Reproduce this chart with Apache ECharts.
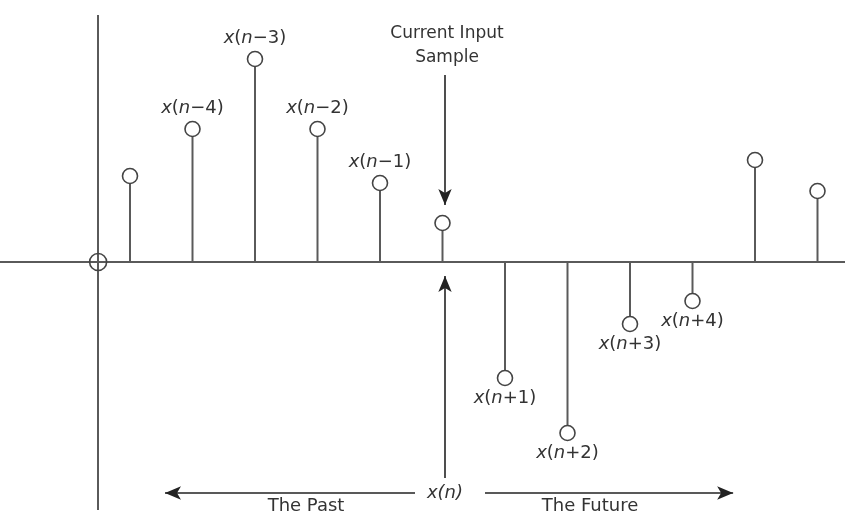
<!DOCTYPE html>
<html>
<head>
<meta charset="utf-8">
<script src="https://cdn.jsdelivr.net/npm/echarts@6/dist/echarts.min.js"></script>
<style>
  html, body { margin: 0; padding: 0; background: #fff; }
  #chart { width: 845px; height: 519px; }
</style>
</head>
<body>
<div id="chart"></div>
<script>
// sample index and amplitude (axis = 0)
var sampleIdx = [1, 2, 3, 4, 5, 6, 7, 8, 9, 10, 11, 12];
var sampleVal = [86, 133, 203, 133, 79, 39, -116, -171, -62, -39, 102, 71];
var sampleTag = ['', '\u22124', '\u22123', '\u22122', '\u22121', '', '+1', '+2', '+3', '+4', '', ''];
var originX = 0.49;

var lineCol = '#5a5a5a';
var txtCol = '#333';
var fam = '"DejaVu Sans"';

var chart = echarts.init(document.getElementById('chart'));

var stemData = [];
var headData = [];
for (var i = 0; i < sampleIdx.length; i++) {
  stemData.push([sampleIdx[i], sampleVal[i]]);
  headData.push({
    value: [sampleIdx[i], sampleVal[i]],
    tag: sampleTag[i],
    label: { position: sampleVal[i] >= 0 ? 'top' : 'bottom' }
  });
}

var richTxt = {
  i: { fontStyle: 'italic', fontSize: 18, color: txtCol, fontFamily: 'DejaVu Sans' },
  t: { fontSize: 18, color: txtCol, fontFamily: 'DejaVu Sans' }
};

function arrowLine(a, b) {
  return [{ coord: a }, { coord: b }];
}

var option = {
  animation: false,
  grid: { left: 0, right: 0, top: 15, bottom: 9 },
  xAxis: {
    type: 'value', min: -1.08, max: 12.44,
    axisLine: { onZero: true, lineStyle: { color: lineCol, width: 2 } },
    axisTick: { show: false }, axisLabel: { show: false }, splitLine: { show: false }
  },
  yAxis: {
    type: 'value', min: -248, max: 247,
    axisLine: { show: false }, axisTick: { show: false },
    axisLabel: { show: false }, splitLine: { show: false }
  },
  series: [
    {
      type: 'bar',
      data: stemData,
      barWidth: 2,
      itemStyle: { color: lineCol },
      silent: true,
      markLine: {
        silent: true,
        symbol: ['none', 'none'],
        label: { show: false },
        lineStyle: { color: lineCol, width: 2, type: 'solid' },
        data: [{ xAxis: originX }]
      }
    },
    {
      type: 'scatter',
      data: headData,
      symbol: 'circle',
      symbolSize: 15,
      z: 5,
      itemStyle: { color: '#fff', opacity: 1, borderColor: '#444', borderWidth: 1.6 },
      label: {
        show: true,
        distance: 3,
        formatter: function (p) {
          var t = p.data.tag;
          if (!t) return '';
          return '{i|x}{t|(}{i|n}{t|' + t + ')}';
        },
        rich: richTxt
      }
    },
    {
      type: 'scatter',
      data: [[originX, 0]],
      symbol: 'circle',
      symbolSize: 17,
      z: 5,
      itemStyle: { color: 'rgba(0,0,0,0)', opacity: 1, borderColor: '#444', borderWidth: 1.6 },
      markLine: {
        silent: true,
        symbol: ['none', 'arrow'],
        symbolSize: [10, 16],
        label: { show: false },
        lineStyle: { color: '#222', width: 1.6, type: 'solid' },
        data: [
          arrowLine([6.04, 187], [6.04, 57]),
          arrowLine([6.04, -216], [6.04, -14]),
          arrowLine([5.56, -231], [1.56, -231]),
          arrowLine([6.68, -231], [10.65, -231])
        ]
      }
    }
  ],
  graphic: [
    { type: 'text', x: 447, y: 34, style: { text: 'Current Input', font: '17px ' + fam, fill: txtCol, align: 'center', verticalAlign: 'middle' } },
    { type: 'text', x: 447, y: 58, style: { text: 'Sample', font: '17px ' + fam, fill: txtCol, align: 'center', verticalAlign: 'middle' } },
    { type: 'text', x: 445, y: 493, style: { text: 'x(n)', font: 'italic 18px ' + fam, fill: txtCol, align: 'center', verticalAlign: 'middle' } },
    { type: 'text', x: 306, y: 506, style: { text: 'The Past', font: '18px ' + fam, fill: txtCol, align: 'center', verticalAlign: 'middle' } },
    { type: 'text', x: 590, y: 506, style: { text: 'The Future', font: '18px ' + fam, fill: txtCol, align: 'center', verticalAlign: 'middle' } }
  ]
};

chart.setOption(option);
</script>
</body>
</html>
